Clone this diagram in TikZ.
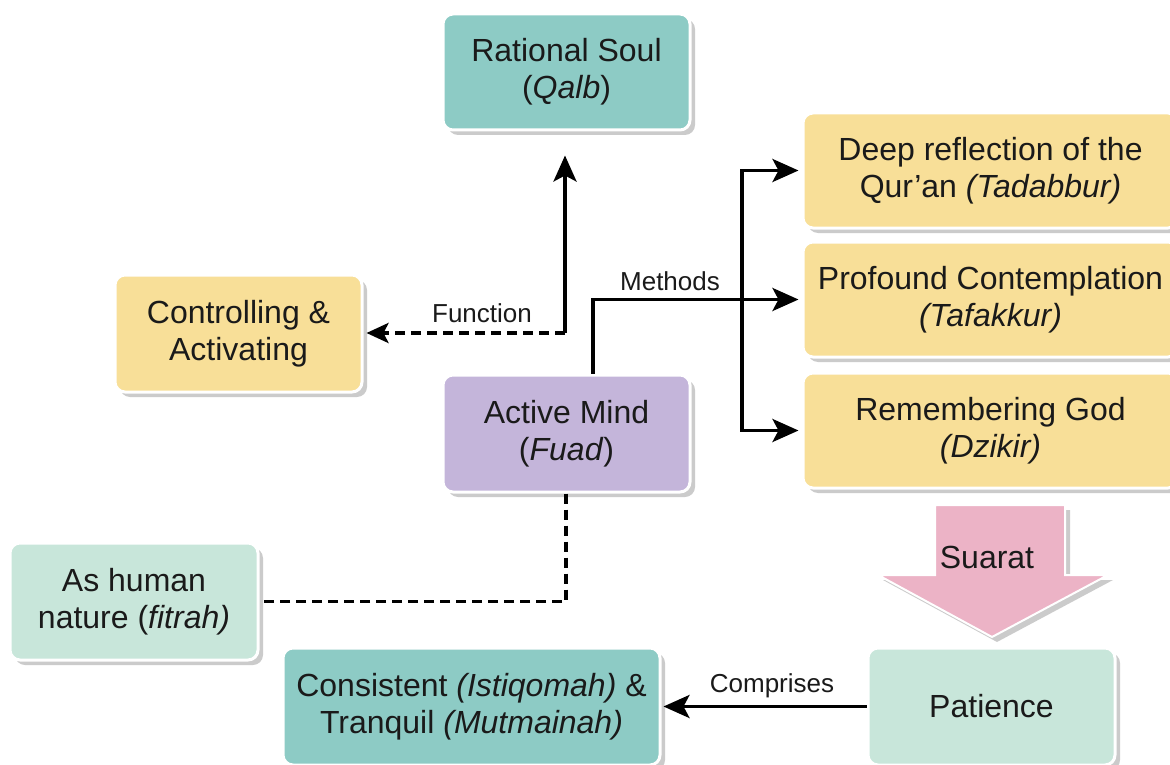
\documentclass[tikz,border=0pt]{standalone}
\usepackage{fontspec}
\setmainfont{Liberation Sans}
\usetikzlibrary{shadows,arrows.meta,calc}
\definecolor{teal}{HTML}{8DCBC5}
\definecolor{yel}{HTML}{F8DF98}
\definecolor{purp}{HTML}{C4B5DA}
\definecolor{lgreen}{HTML}{C8E6DA}
\definecolor{pinkc}{HTML}{ECB3C6}
\definecolor{txt}{HTML}{1A1A1A}
\tikzset{
  box/.style={rectangle, rounded corners=10pt, draw=white, line width=3pt,
    align=center, text=txt, font=\fontsize{32}{37}\selectfont, inner sep=0pt,
    drop shadow={shadow xshift=5pt, shadow yshift=-5pt, opacity=0.5, fill=gray!80}},
  conn/.style={line width=3.6pt, black},
  arr/.style={conn, -{Stealth[length=26pt,width=23pt,inset=6pt]}},
  darr/.style={conn, dash pattern=on 10pt off 6pt, -{Stealth[length=22pt,width=20pt,inset=5pt]}},
  dline/.style={conn, dash pattern=on 10pt off 6pt},
  lbl/.style={font=\fontsize{26}{30}\selectfont, text=txt, inner sep=0pt}
}
\begin{document}
\begin{tikzpicture}[x=1pt,y=-1pt]
\fill[white] (0,0) rectangle (1170,765);
\useasboundingbox (0,0) rectangle (1170,765);
% boxes
\node[box, fill=teal, minimum width=247pt, minimum height=116pt] (qalb) at (566.5,72) {Rational Soul\\(\textit{Qalb})};
\node[box, fill=yel, minimum width=247pt, minimum height=117pt] (ctrl) at (238.5,333.5) {Controlling \&\\Activating};
\node[box, fill=purp, minimum width=247pt, minimum height=117pt] (fuad) at (566.5,433.5) {Active Mind\\(\textit{Fuad})};
\node[box, fill=yel, minimum width=375pt, minimum height=115pt] (tadabbur) at (990.5,170.5) {Deep reflection of the\\Qur'an \textit{(Tadabbur)}};
\node[box, fill=yel, minimum width=375pt, minimum height=115pt] (tafakkur) at (990.5,299.5) {Profound Contemplation\\\textit{(Tafakkur)}};
\node[box, fill=yel, minimum width=375pt, minimum height=115pt] (dzikir) at (990.5,430.5) {Remembering God\\\textit{(Dzikir)}};
\node[box, fill=lgreen, minimum width=248pt, minimum height=117pt] (fitrah) at (134,601.5) {As human\\nature (\textit{fitrah)}};
\node[box, fill=teal, minimum width=377pt, minimum height=117pt] (istiqomah) at (471.5,706.5) {Consistent \textit{(Istiqomah)} \&\\Tranquil \textit{(Mutmainah)}};
\node[box, fill=lgreen, minimum width=247pt, minimum height=117pt] (patience) at (991.5,706.5) {Patience};
% Suarat block arrow
\draw[fill=pinkc, draw=white, line width=2pt, drop shadow={shadow xshift=5pt, shadow yshift=-5pt, opacity=0.5, fill=gray!80}]
  (935,505) -- (1065,505) -- (1065,575) -- (1108,575) -- (992,637) -- (878,575) -- (935,575) -- cycle;
\node[lbl, font=\fontsize{32}{36}\selectfont] (suarat) at (987,557) {Suarat};
% connectors
\coordinate (fj) at (565,333);
\draw[arr, shorten >=24pt] (fj) -- (fj |- qalb.south);
\draw[darr, shorten >=3pt] (fj) -- (fj -| ctrl.east);
\node[lbl] (flbl) at (482,313) {Function};
\draw[arr, shorten >=3pt] ([xshift=26.5pt]fuad.north) |- (tafakkur.west);
\node[lbl] (mlbl) at (670,281) {Methods};
\coordinate (br) at (742,299.5);
\draw[arr, shorten >=3pt] (br) |- (tadabbur.west);
\draw[arr, shorten >=3pt] (br) |- (dzikir.west);
\draw[dline] ([xshift=-0.5pt]fuad.south) |- (fitrah.east);
\draw[arr, shorten >=2pt] (patience.west) -- (istiqomah.east);
\node[lbl] (clbl) at (772,686) {Comprises};
\end{tikzpicture}
\end{document}
